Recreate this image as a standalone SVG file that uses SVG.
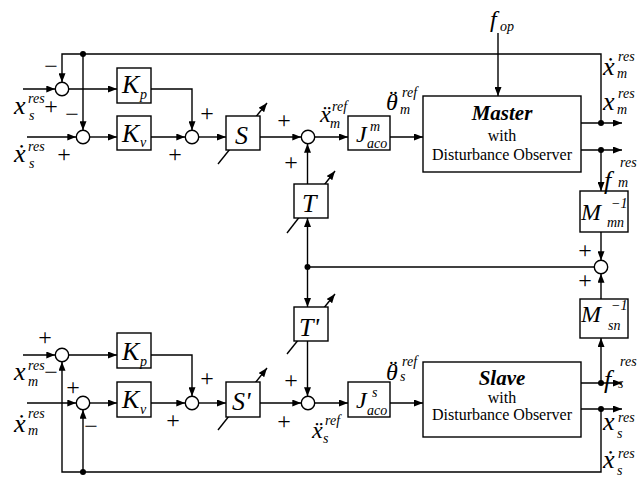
<svg xmlns="http://www.w3.org/2000/svg" width="639" height="477" viewBox="0 0 639 477">
<defs>
<marker id="ah" markerUnits="userSpaceOnUse" markerWidth="9" markerHeight="7" refX="9" refY="3.5" orient="auto"><path d="M0,0 L9,3.5 L0,7 z" fill="#000"/></marker>
<style>
.l{stroke:#000;stroke-width:1.4;fill:none}
.a{marker-end:url(#ah)}
.b{fill:#fff;stroke:#000;stroke-width:1.4}
.d{fill:#000}
text{font-family:"Liberation Serif","Times New Roman",serif;fill:#000}
.big{font-size:26px;font-style:italic}
.med{font-size:24px;font-style:italic}
.sm{font-size:14px;font-style:italic}
.pm{font-size:24px;text-anchor:middle}
.bt{font-size:21px;font-weight:bold;font-style:italic;text-anchor:middle}
.rt{font-size:16px;text-anchor:middle}
</style>
</defs>
<rect width="639" height="477" fill="#fff"/>
<g id="connectors">
<path class="l a" d="M23,89 H55.3"/>
<path class="l a" d="M601,123 V54 H62 V82.3"/>
<path class="l a" d="M83,54 V130.3"/>
<path class="l a" d="M27,137 H76.3"/>
<path class="l a" d="M68.7,89 H117"/>
<path class="l a" d="M89.7,137 H117"/>
<path class="l a" d="M151,89 H192 V130.3"/>
<path class="l a" d="M151,137 H185.3"/>
<path class="l a" d="M198.7,137 H226"/>
<path class="l a" d="M260,137 H301.3"/>
<path class="l a" d="M314.7,137 H348"/>
<path class="l a" d="M390,137 H423"/>
<path class="l a" d="M498,33 V96"/>
<path class="l a" d="M581,123 H622"/>
<path class="l a" d="M581,150 H622"/>
<path class="l a" d="M601,150 V191"/>
<path class="l a" d="M601,232 V260.3"/>
<path class="l a" d="M601,299 V273.7"/>
<path class="l a" d="M601,383 V338"/>
<path class="l" d="M594.3,267 H307.5"/>
<path class="l a" d="M307.5,267 V218"/>
<path class="l a" d="M307.5,184 V143.7"/>
<path class="l a" d="M307.5,267 V307"/>
<path class="l a" d="M307.5,341 V396.3"/>
<path class="l a" d="M23,355 H55.3"/>
<path class="l a" d="M27,403 H76.3"/>
<path class="l a" d="M68.7,355 H117"/>
<path class="l a" d="M89.7,403 H117"/>
<path class="l a" d="M151,355 H192 V396.3"/>
<path class="l a" d="M151,403 H185.3"/>
<path class="l a" d="M198.7,403 H226"/>
<path class="l a" d="M260,403 H301.3"/>
<path class="l a" d="M314.7,403 H348"/>
<path class="l a" d="M390,403 H423"/>
<path class="l a" d="M581,383 H622"/>
<path class="l a" d="M581,409 H622"/>
<path class="l a" d="M601,409 V472 H62 V361.7"/>
<path class="l a" d="M83,472 V409.7"/>
<circle class="d" cx="83" cy="54" r="3"/>
<circle class="d" cx="601" cy="123" r="3"/>
<circle class="d" cx="601" cy="150" r="3"/>
<circle class="d" cx="307.5" cy="267" r="3"/>
<circle class="d" cx="601" cy="383" r="3"/>
<circle class="d" cx="601" cy="409" r="3"/>
<circle class="d" cx="83" cy="472" r="3"/>
</g>
<g id="sum1"><circle class="b" cx="62" cy="89" r="6.7"/></g>
<g id="sum2"><circle class="b" cx="83" cy="137" r="6.7"/></g>
<g id="sum3"><circle class="b" cx="192" cy="137" r="6.7"/></g>
<g id="sum4"><circle class="b" cx="308" cy="137" r="6.7"/></g>
<g id="sum5"><circle class="b" cx="62" cy="355" r="6.7"/></g>
<g id="sum6"><circle class="b" cx="83" cy="403" r="6.7"/></g>
<g id="sum7"><circle class="b" cx="192" cy="403" r="6.7"/></g>
<g id="sum8"><circle class="b" cx="308" cy="403" r="6.7"/></g>
<g id="sum9"><circle class="b" cx="601" cy="267" r="6.7"/></g>
<g id="Kp1"><rect class="b" x="117" y="68" width="34" height="35"/><text class="big" x="122" y="93">K</text><text class="sm" x="140" y="99" font-size="15">p</text></g>
<g id="Kv1"><rect class="b" x="117" y="116" width="34" height="34"/><text class="big" x="122" y="142">K</text><text class="sm" x="140" y="147">v</text></g>
<g id="Kp2"><rect class="b" x="117" y="333" width="34" height="35"/><text class="big" x="122" y="360">K</text><text class="sm" x="140" y="366">p</text></g>
<g id="Kv2"><rect class="b" x="117" y="382" width="34" height="35"/><text class="big" x="122" y="408">K</text><text class="sm" x="140" y="414">v</text></g>
<g id="S"><path class="l a" d="M218,164 L267,103"/><rect class="b" x="226" y="116" width="34" height="34"/><text class="big" x="235" y="144">S</text></g>
<g id="S2"><path class="l a" d="M218,430 L267,368"/><rect class="b" x="226" y="382" width="34" height="35"/><text class="big" x="232" y="410">S'</text></g>
<g id="T"><path class="l a" d="M287,233 L335,171"/><rect class="b" x="294" y="184" width="34" height="34"/><text class="big" x="302" y="212">T</text></g>
<g id="T2"><path class="l a" d="M287,354 L335,294"/><rect class="b" x="294" y="307" width="34" height="34"/><text class="big" x="299" y="336">T'</text></g>
<g id="Jm"><rect class="b" x="348" y="116" width="42" height="34"/><text class="med" x="356" y="142">J</text><text class="sm" x="370" y="131">m</text><text class="sm" x="367" y="148">aco</text></g>
<g id="Js"><rect class="b" x="348" y="382" width="42" height="35"/><text class="med" x="356" y="408">J</text><text class="sm" x="372" y="397">s</text><text class="sm" x="367" y="415">aco</text></g>
<g id="Master"><rect class="b" x="423" y="96" width="158" height="76"/><text class="bt" x="502" y="120">Master</text><text class="rt" x="502" y="141">with</text><text class="rt" x="502" y="160">Disturbance Observer</text></g>
<g id="Slave"><rect class="b" x="423" y="362" width="158" height="75"/><text class="bt" x="502" y="385">Slave</text><text class="rt" x="502" y="403">with</text><text class="rt" x="502" y="420">Disturbance Observer</text></g>
<g id="Mmn"><rect class="b" x="580" y="191" width="48" height="41"/><text class="med" x="581" y="220">M</text><text class="sm" x="611" y="208">−1</text><text class="sm" x="607" y="227">mn</text></g>
<g id="Msn"><rect class="b" x="580" y="299" width="48" height="39"/><text class="med" x="581" y="322">M</text><text class="sm" x="611" y="310">−1</text><text class="sm" x="608" y="330">sn</text></g>
<g id="labels">
<text class="big" x="14" y="114">x</text><text class="sm" x="28" y="103">res</text><text class="sm" x="29" y="120">s</text>
<text class="big" x="14" y="162">ẋ</text><text class="sm" x="28" y="151">res</text><text class="sm" x="29" y="168">s</text>
<text class="big" x="14" y="380">x</text><text class="sm" x="28" y="370">res</text><text class="sm" x="28" y="386">m</text>
<text class="big" x="14" y="432">ẋ</text><text class="sm" x="28" y="418">res</text><text class="sm" x="28" y="435">m</text>
<text class="med" x="320" y="122">ẍ</text><text class="sm" x="332" y="111">ref</text><text class="sm" x="330" y="128">m</text>
<text class="med" x="386" y="110">θ<tspan dx="-10" dy="-3">¨</tspan></text><text class="sm" x="402" y="97">ref</text><text class="sm" x="400" y="114">m</text>
<text class="med" x="312" y="438">ẍ</text><text class="sm" x="325" y="425">ref</text><text class="sm" x="323" y="443">s</text>
<text class="med" x="386" y="380">θ<tspan dx="-10" dy="-3">¨</tspan></text><text class="sm" x="402" y="366">ref</text><text class="sm" x="400" y="381">s</text>
<text class="med" x="490" y="27">f</text><text class="sm" x="500" y="31" font-size="15">op</text>
<text class="big" x="603" y="75">ẋ</text><text class="sm" x="618" y="61">res</text><text class="sm" x="617" y="78">m</text>
<text class="big" x="603" y="110">x</text><text class="sm" x="618" y="98">res</text><text class="sm" x="617" y="114">m</text>
<text class="big" x="604" y="189">f</text><text class="sm" x="620" y="167">res</text><text class="sm" x="618" y="187">m</text>
<text class="big" x="604" y="388">f</text><text class="sm" x="620" y="366">res</text><text class="sm" x="618" y="388">s</text>
<text class="big" x="603" y="430">x</text><text class="sm" x="618" y="422">res</text><text class="sm" x="617" y="438">s</text>
<text class="big" x="603" y="468">ẋ</text><text class="sm" x="618" y="458">res</text><text class="sm" x="617" y="475">s</text>
</g>
<g id="signs">
<text class="pm" x="51" y="74">−</text>
<text class="pm" x="51" y="114">+</text>
<text class="pm" x="72" y="122">−</text>
<text class="pm" x="64" y="162">+</text>
<text class="pm" x="207" y="121">+</text>
<text class="pm" x="175" y="162">+</text>
<text class="pm" x="284" y="128">+</text>
<text class="pm" x="291" y="170">+</text>
<text class="pm" x="585" y="258">+</text>
<text class="pm" x="585" y="288">+</text>
<text class="pm" x="45" y="345">+</text>
<text class="pm" x="51" y="380">−</text>
<text class="pm" x="73" y="395">+</text>
<text class="pm" x="91" y="434">−</text>
<text class="pm" x="207" y="386">+</text>
<text class="pm" x="173" y="428">+</text>
<text class="pm" x="291" y="388">+</text>
<text class="pm" x="284" y="429">+</text>
</g>
</svg>
